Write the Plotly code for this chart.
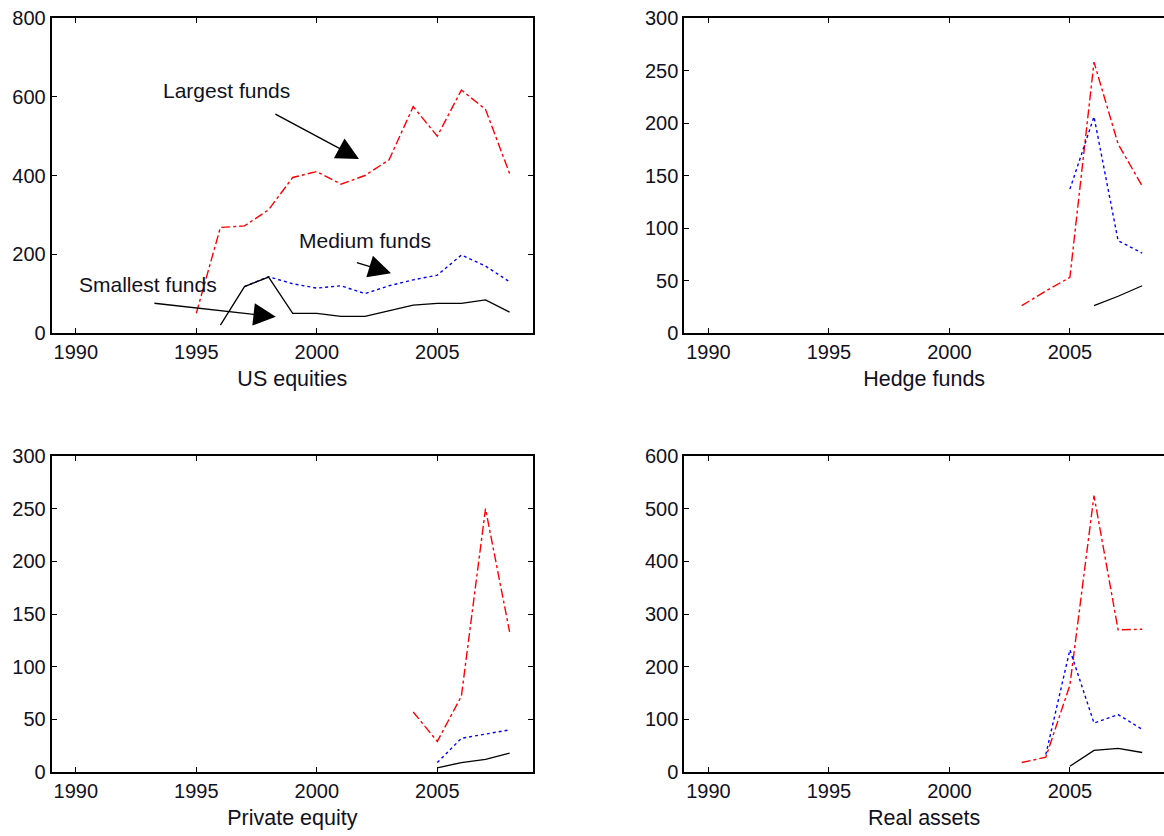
import plotly.graph_objects as go

FONT = "Liberation Sans, Arial, sans-serif"
TXT = "#111122"

# ---------------- data ----------------
# US equities
us_large_years = [1995, 1996, 1997, 1998, 1999, 2000, 2001, 2002, 2003, 2004, 2005, 2006, 2007, 2008]
us_large = [50, 268, 272, 313, 395, 410, 378, 400, 440, 575, 500, 617, 568, 405]
us_medium_years = [1997, 1998, 1999, 2000, 2001, 2002, 2003, 2004, 2005, 2006, 2007, 2008]
us_medium = [118, 143, 125, 114, 120, 100, 120, 135, 147, 198, 170, 130]
us_small_years = [1996, 1997, 1998, 1999, 2000, 2001, 2002, 2003, 2004, 2005, 2006, 2007, 2008]
us_small = [20, 118, 142, 50, 50, 42, 42, 56, 71, 75, 75, 84, 53]

# Hedge funds
hf_large_years = [2003, 2004, 2005, 2006, 2007, 2008]
hf_large = [26, 40, 53, 258, 180, 140]
hf_medium_years = [2005, 2006, 2007, 2008]
hf_medium = [137, 206, 88, 76]
hf_small_years = [2006, 2007, 2008]
hf_small = [26, 35, 45]

# Private equity
pe_large_years = [2004, 2005, 2006, 2007, 2008]
pe_large = [57, 29, 72, 250, 133]
pe_medium_years = [2005, 2006, 2007, 2008]
pe_medium = [9, 32, 36, 40]
pe_small_years = [2005, 2006, 2007, 2008]
pe_small = [4, 9, 12, 18]

# Real assets
ra_large_years = [2003, 2004, 2005, 2006, 2007, 2008]
ra_large = [18, 28, 165, 525, 270, 271]
ra_medium_years = [2004, 2005, 2006, 2007, 2008]
ra_medium = [33, 232, 93, 109, 81]
ra_small_years = [2005, 2006, 2007, 2008]
ra_small = [11, 41, 45, 37]

panel_titles = ["US equities", "Hedge funds", "Private equity", "Real assets"]
x_ticks = [1990, 1995, 2000, 2005]
y_ticks = [
    [0, 200, 400, 600, 800],
    [0, 50, 100, 150, 200, 250, 300],
    [0, 50, 100, 150, 200, 250, 300],
    [0, 100, 200, 300, 400, 500, 600],
]

# ---------------- figure ----------------
W, H = 1164, 836
fig = go.Figure()

panels = [
    (us_large_years, us_large, us_medium_years, us_medium, us_small_years, us_small),
    (hf_large_years, hf_large, hf_medium_years, hf_medium, hf_small_years, hf_small),
    (pe_large_years, pe_large, pe_medium_years, pe_medium, pe_small_years, pe_small),
    (ra_large_years, ra_large, ra_medium_years, ra_medium, ra_small_years, ra_small),
]

for i, (lx, ly, mx, my, sx, sy) in enumerate(panels):
    xa = "x" if i == 0 else f"x{i+1}"
    ya = "y" if i == 0 else f"y{i+1}"
    fig.add_trace(go.Scatter(x=lx, y=ly, mode="lines", xaxis=xa, yaxis=ya,
                             line=dict(color="#ff0000", width=1.4, dash="dashdot"),
                             showlegend=False))
    fig.add_trace(go.Scatter(x=mx, y=my, mode="lines", xaxis=xa, yaxis=ya,
                             line=dict(color="#0000ff", width=1.4, dash="dot"),
                             showlegend=False))
    fig.add_trace(go.Scatter(x=sx, y=sy, mode="lines", xaxis=xa, yaxis=ya,
                             line=dict(color="#000000", width=1.3),
                             showlegend=False))

# domains in pixels
left_col = (51.7, 533.0)
right_col = (684.3, 1164.0)
top_row = (18.0, 333.0)
bot_row = (456.0, 772.0)
px_per_year = 24.1


def xdom(c):
    return [c[0] / W, c[1] / W]


def ydom(r):
    return [1 - r[1] / H, 1 - r[0] / H]


cells = [(left_col, top_row), (right_col, top_row), (left_col, bot_row), (right_col, bot_row)]

axis_font = dict(family=FONT, size=20, color=TXT)
layout = {}
for i, (c, r) in enumerate(cells):
    xk = "xaxis" if i == 0 else f"xaxis{i+1}"
    yk = "yaxis" if i == 0 else f"yaxis{i+1}"
    xmax = 1989 + (c[1] - c[0]) / px_per_year
    right = c[1] >= W
    layout[xk] = dict(
        domain=xdom(c), range=[1989, xmax], anchor="y" if i == 0 else f"y{i+1}",
        tickvals=x_ticks, ticks="inside", ticklen=5, tickwidth=1.3, tickcolor="#000",
        showline=True, linecolor="#000", linewidth=2, mirror="ticks",
        showgrid=False, zeroline=False, tickfont=axis_font, automargin=False,
        title=dict(text=panel_titles[i], font=dict(family=FONT, size=21.5, color=TXT), standoff=9),
    )
    layout[yk] = dict(
        domain=ydom(r), range=[0, y_ticks[i][-1]], anchor="x" if i == 0 else f"x{i+1}",
        tickvals=y_ticks[i], ticks="inside", ticklen=5, tickwidth=1.3, tickcolor="#000",
        showline=True, linecolor="#000", linewidth=2, mirror=False if right else "ticks",
        showgrid=False, zeroline=False, tickfont=axis_font, automargin=False,
    )

fig.update_layout(
    width=W, height=H, margin=dict(l=0, r=0, t=0, b=0, autoexpand=False),
    paper_bgcolor="white", plot_bgcolor="white",
    font=dict(family=FONT, color=TXT),
    **layout,
)

# annotations (labels + arrows) in US equities panel
labels = [("Largest funds", 1996.25, 617), ("Medium funds", 2002.0, 236), ("Smallest funds", 1993.0, 122)]
for t, x, y in labels:
    fig.add_annotation(x=x, y=y, xref="x", yref="y", text=t, showarrow=False,
                       font=dict(family=FONT, size=21, color=TXT))

arrows = [
    ((1998.22, 558), (2001.75, 442)),
    ((2001.6, 180), (2003.08, 152)),
    ((1993.2, 76), (1998.3, 41)),
]
for (tx, ty), (hx, hy) in arrows:
    fig.add_annotation(x=hx, y=hy, ax=tx, ay=ty, xref="x", yref="y", axref="x", ayref="y",
                       text="", showarrow=True, arrowhead=2, arrowsize=3.2, arrowwidth=1.4,
                       arrowcolor="#000")

fig.write_html("out.html")
